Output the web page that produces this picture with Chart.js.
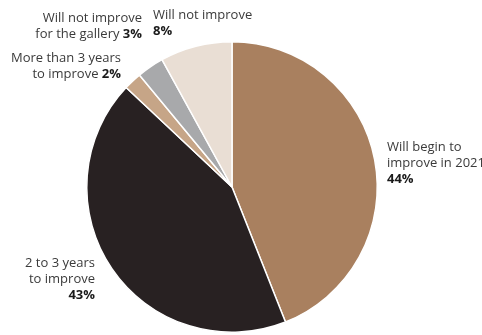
<!DOCTYPE html>
<html>
<head>
<meta charset="utf-8">
<script src="https://cdn.jsdelivr.net/npm/chart.js@4"></script>
<style>
  html, body { margin: 0; padding: 0; background: #ffffff; }
  #wrap { width: 482px; height: 335px; position: relative; }
</style>
</head>
<body>
<div id="wrap"><canvas id="pie"></canvas></div>
<script>
// Datos del gráfico
const categories = [
  "Will begin to improve in 2021",
  "2 to 3 years to improve",
  "More than 3 years to improve",
  "Will not improve for the gallery",
  "Will not improve",
];
const shares = [44, 43, 2, 3, 8];
// texto de cada etiqueta (líneas normales, la última parte va en negrita)
const labelLines = [
  [["Will begin to", ""], ["improve in 2021", ""], ["", "44%"]],
  [["2 to 3 years", ""], ["to improve", ""], ["", "43%"]],
  [["More than 3 years", ""], ["to improve ", "2%"]],
  [["Will not improve", ""], ["for the gallery ", "3%"]],
  [["Will not improve", ""], ["", "8%"]],
];

const colors = ["#a9805f", "#282122", "#c6a587", "#a8a9ab", "#e9ded4"];

// posición de las etiquetas: x, y de la primera línea, alineación
const labelPos = [
  { x: 387, y: 147, align: "left" },
  { x: 95, y: 263, align: "right" },
  { x: 121, y: 58, align: "right" },
  { x: 142, y: 18, align: "right" },
  { x: 153, y: 15, align: "left" },
];

const FONT = "'Open Sans', sans-serif";
const labelPlugin = {
  id: "pieLabels",
  afterDraw(chart) {
    const ctx = chart.ctx;
    ctx.save();
    ctx.textBaseline = "middle";
    labelLines.forEach((lines, i) => {
      const pos = labelPos[i];
      lines.forEach((parts, j) => {
        const y = pos.y + j * 16;
        ctx.font = "13px " + FONT;
        const wNorm = ctx.measureText(parts[0]).width;
        ctx.font = "bold 13px " + FONT;
        const wBold = ctx.measureText(parts[1]).width;
        let x = pos.align === "left" ? pos.x : pos.x - wNorm - wBold;
        ctx.textAlign = "left";
        ctx.font = "13px " + FONT;
        ctx.fillStyle = "#3a3a3a";
        ctx.fillText(parts[0], x, y);
        ctx.font = "bold 13px " + FONT;
        ctx.fillStyle = "#1a1a1a";
        ctx.fillText(parts[1], x + wNorm, y);
      });
    });
    ctx.restore();
  },
};

new Chart(document.getElementById("pie").getContext("2d"), {
  type: "pie",
  data: {
    labels: categories,
    datasets: [
      {
        data: shares,
        backgroundColor: colors,
        borderColor: "#ffffff",
        borderWidth: 1.5,
      },
    ],
  },
  options: {
    responsive: true,
    maintainAspectRatio: false,
    animation: false,
    layout: { padding: { top: 41, bottom: 2, left: 0, right: 18 } },
    plugins: {
      legend: { display: false },
      tooltip: { enabled: false },
    },
  },
  plugins: [labelPlugin],
});
</script>
</body>
</html>
